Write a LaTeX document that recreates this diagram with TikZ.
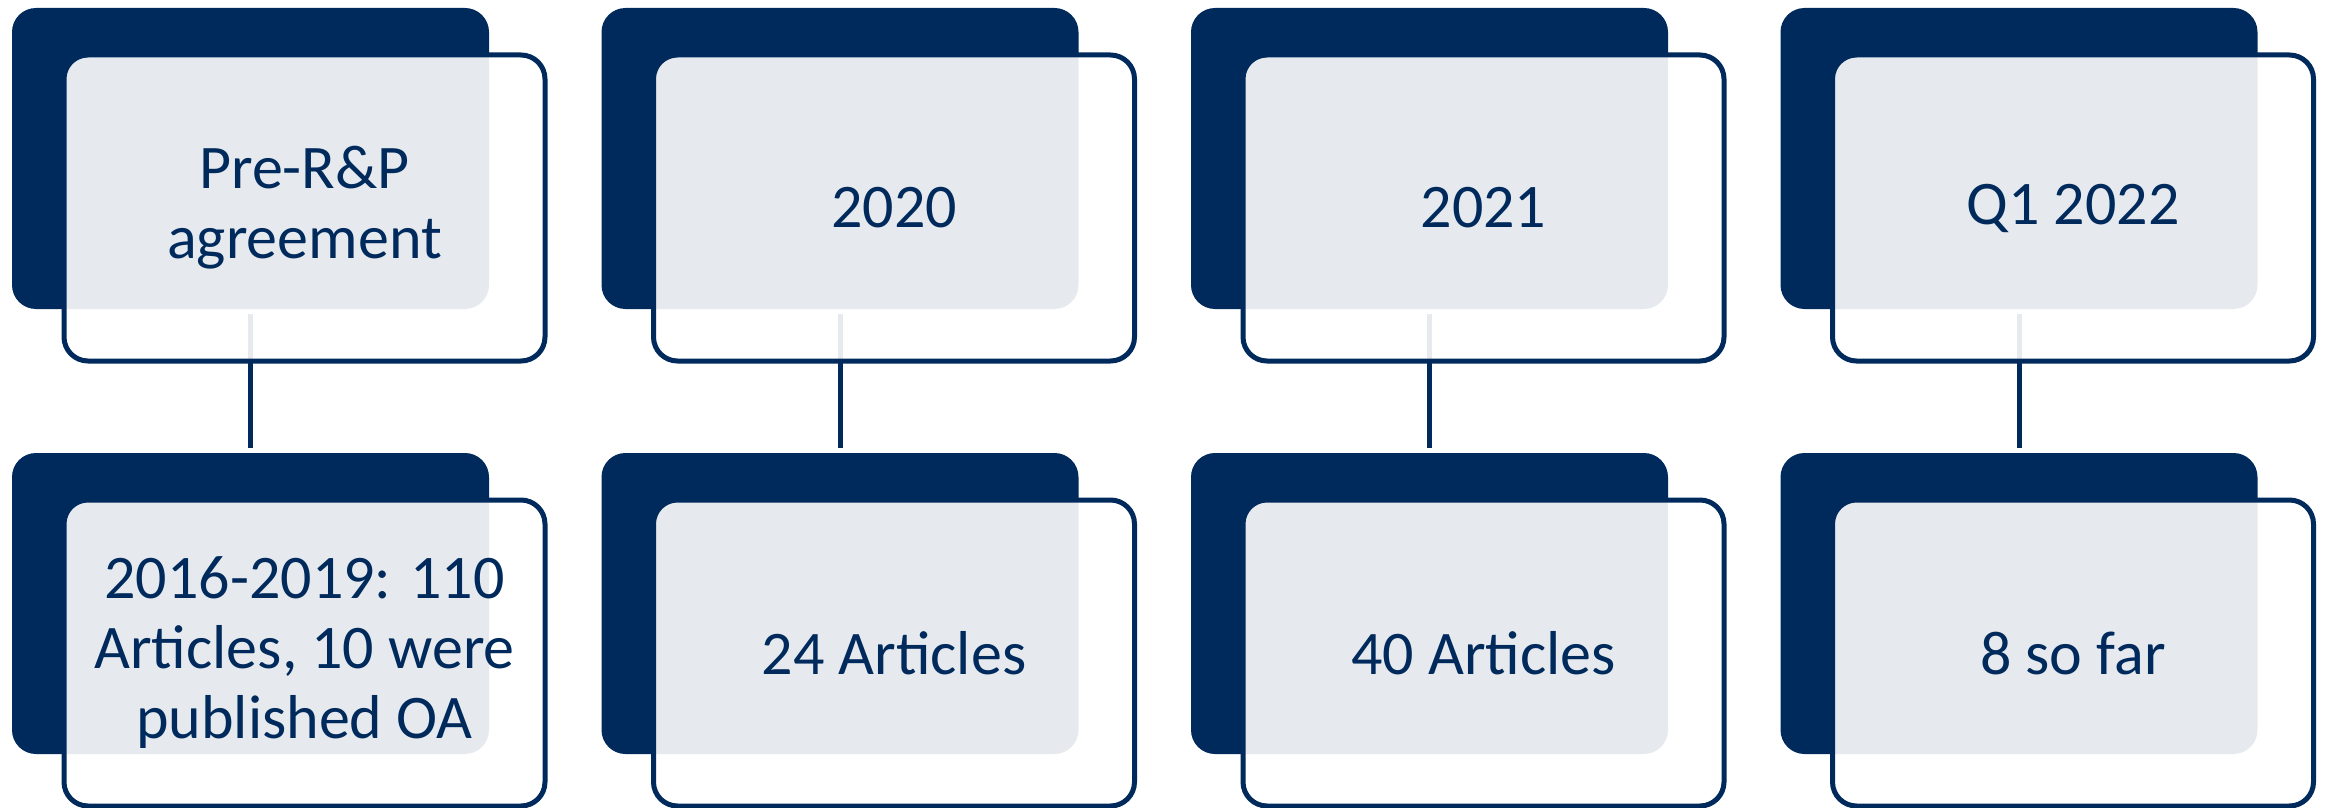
\documentclass[tikz,border=0pt]{standalone}
\usepackage{fontspec}
\setmainfont{Carlito}
\usetikzlibrary{calc}
\definecolor{navy}{HTML}{002A5C}
\tikzset{
  backbox/.style={fill=navy, rounded corners=12pt, inner sep=0pt,
    minimum width=238.5pt, minimum height=150.5pt},
  frontbox/.style={draw=navy, line width=2.5pt, fill=white, fill opacity=0.9,
    text opacity=1, rounded corners=12pt, inner sep=0pt,
    minimum width=240.5pt, minimum height=153pt, text=navy, align=center,
    font=\fontsize{31}{35}\selectfont},
  link/.style={draw=navy, line width=2.5pt, shorten <=2.5pt, shorten >=2.5pt}
}

\begin{document}
\begin{tikzpicture}[x=0.5pt, y=-0.5pt] % pixel units, y pointing down

\def\pitch{589.5} % distance between columns
\def\rowgap{445} % distance between rows
\useasboundingbox (0,0) rectangle (2331,808);

\foreach \i/\toptext/\bottext in {0/{Pre-R\&P\\agreement}/{2016-2019: 110\\Articles, 10 were\\published OA},
  1/2020/24 Articles, 2/2021/40 Articles, 3/Q1 2022/8 so far}{
  % dark blocks behind
  \node[backbox] (dT\i) at (250.5+\i*\pitch, 158.5) {};
  \node[backbox] (dB\i) at ($(dT\i)+(0,\rowgap)$) {};
  \draw[link] (dT\i.south) -- (dB\i.north);
  % framed blocks in front
  \node[frontbox] (lT\i) at ($(dT\i)+(54,49.5)$) {\toptext};
  \node[frontbox] (lB\i) at ($(dB\i)+(54,49.5)$) {\bottext};
}
\end{tikzpicture}
\end{document}
